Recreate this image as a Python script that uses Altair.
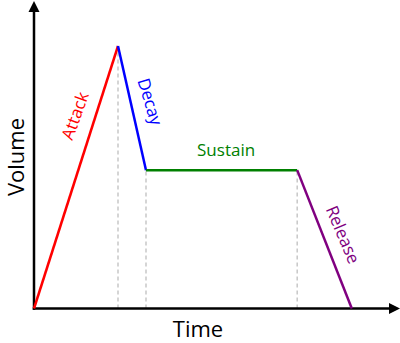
import altair as alt
import pandas as pd

# ADSR envelope (time units, volume relative to peak)
phases = ["Attack", "Decay", "Sustain", "Release"]
t_start = [0.0, 3.0, 4.0, 9.4]
t_end = [3.0, 4.0, 9.4, 11.35]
v_start = [0.0, 1.0, 0.527, 0.527]
v_end = [1.0, 0.527, 0.527, 0.0]
colors = ["#ff0000", "#0000ff", "#008000", "#800080"]

# label annotations
label_t = [1.5, 4.11, 6.86, 11.0]
label_v = [0.733, 0.787, 0.6, 0.28]
label_angle = [290, 73, 0, 67]

# axis extents
T_MIN, T_MAX = -34 / 28, 366 / 28
V_MIN, V_MAX = -34.5 / 262.5, 308.5 / 262.5
T_ARROW = 12.875
V_ARROW = 1.1505

seg = pd.DataFrame({"phase": phases, "t0": t_start, "t1": t_end,
                    "v0": v_start, "v1": v_end})
guides = pd.DataFrame({"t": [t_end[0], t_end[1], t_end[2]],
                       "v": [v_end[0], v_end[1], v_end[2]], "z": [0, 0, 0]})
labels = pd.DataFrame({"phase": phases, "t": label_t, "v": label_v, "angle": label_angle})

xs = alt.Scale(domain=[T_MIN, T_MAX], nice=False, zero=False)
ys = alt.Scale(domain=[V_MIN, V_MAX], nice=False, zero=False)
cs = alt.Scale(domain=phases, range=colors)

X = lambda f: alt.X(f, scale=xs, axis=None)
Y = lambda f: alt.Y(f, scale=ys, axis=None)

guide_layer = alt.Chart(guides).mark_rule(
    color="#c8c8c8", strokeWidth=1.5, strokeDash=[4, 3]
).encode(x=X("t:Q"), y=Y("z:Q"), y2="v:Q")

axes_df = pd.DataFrame({"t0": [0.0, 0.0], "t1": [T_ARROW, 0.0],
                        "v0": [0.0, 0.0], "v1": [0.0, V_ARROW]})
axes_layer = alt.Chart(axes_df).mark_rule(
    color="black", strokeWidth=2.5, strokeCap="square"
).encode(x=X("t0:Q"), x2="t1:Q", y=Y("v0:Q"), y2="v1:Q")

arrow_up = alt.Chart(pd.DataFrame({"t": [0.0], "v": [V_ARROW]})).mark_point(
    shape="M0,-0.92L-0.92,0.92L0.92,0.92Z", size=144, filled=True,
    color="black", opacity=1
).encode(x=X("t:Q"), y=Y("v:Q"))
arrow_right = alt.Chart(pd.DataFrame({"t": [T_ARROW], "v": [0.0]})).mark_point(
    shape="M0.92,0L-0.92,-0.92L-0.92,0.92Z", size=144, filled=True,
    color="black", opacity=1
).encode(x=X("t:Q"), y=Y("v:Q"))

env_layer = alt.Chart(seg).mark_rule(strokeWidth=2.5).encode(
    x=X("t0:Q"), x2="t1:Q", y=Y("v0:Q"), y2="v1:Q",
    color=alt.Color("phase:N", scale=cs, legend=None)
)

label_layer = alt.Chart(labels).mark_text(
    font="Open Sans", fontSize=17, align="center", baseline="middle"
).encode(
    x=X("t:Q"), y=Y("v:Q"), text="phase:N",
    angle=alt.Angle("angle:Q", scale=None),
    color=alt.Color("phase:N", scale=cs, legend=None)
)

titles = pd.DataFrame({"text": ["Volume", "Time"], "t": [-0.61, 5.857],
                       "v": [0.577, -0.08], "angle": [270, 0]})
title_layer = alt.Chart(titles).mark_text(
    font="Open Sans", fontSize=22, color="black", align="center", baseline="middle"
).encode(x=X("t:Q"), y=Y("v:Q"), text="text:N",
         angle=alt.Angle("angle:Q", scale=None))

chart = alt.layer(
    guide_layer, axes_layer, arrow_up, arrow_right, env_layer, label_layer, title_layer
).properties(
    width=400, height=343, autosize=alt.AutoSizeParams(type="none"), padding=0
).configure_view(stroke=None)

chart.save("out.html", embed_options={"renderer": "svg", "actions": False})
